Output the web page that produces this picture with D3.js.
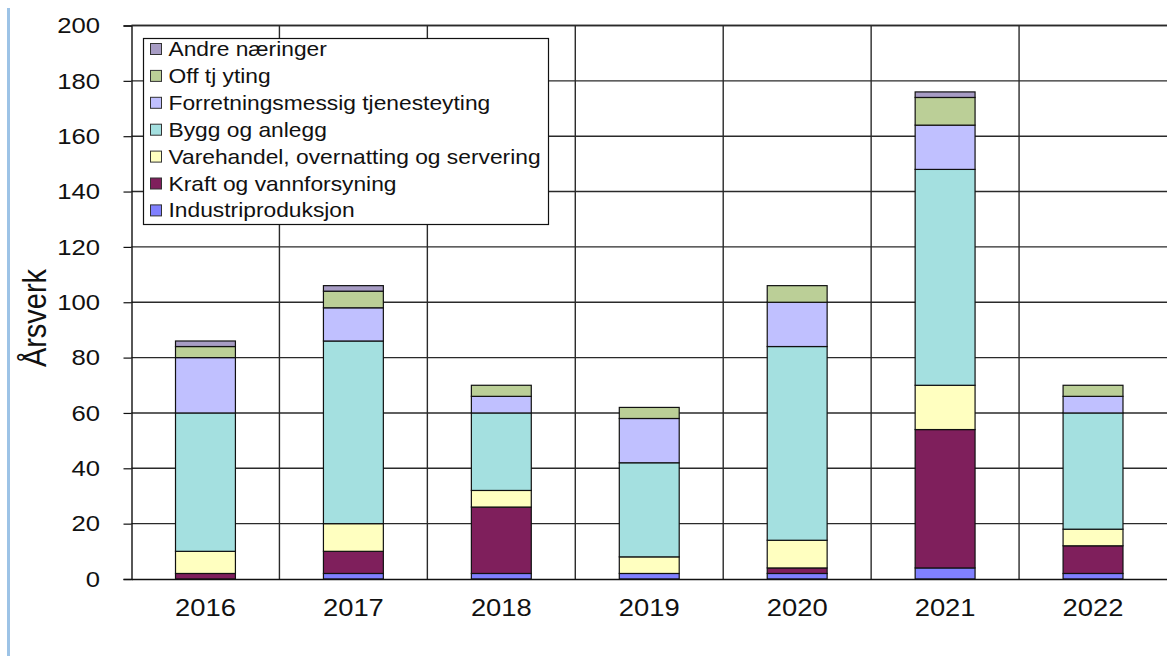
<!DOCTYPE html>
<html>
<head>
<meta charset="utf-8">
<script src="https://cdn.jsdelivr.net/npm/d3@7"></script>
<style>
  html, body { margin: 0; padding: 0; background: #fff; }
  svg { display: block; font-family: "Liberation Sans", Arial, sans-serif; }
</style>
</head>
<body>
<svg id="chart" width="1167" height="661"></svg>
<script>
// Years on the x axis
const years = ["2016", "2017", "2018", "2019", "2020", "2021", "2022"];

// Årsverk per industry, stacked bottom to top
const industriproduksjon = [0, 2, 2, 2, 2, 4, 2];
const kraftOgVannforsyning = [2, 8, 24, 0, 2, 50, 10];
const varehandel = [8, 10, 6, 6, 10, 16, 6];
const byggOgAnlegg = [50, 66, 28, 34, 70, 78, 42];
const forretningsmessig = [20, 12, 6, 16, 16, 16, 6];
const offTjYting = [4, 6, 4, 4, 6, 10, 4];
const andreNaeringer = [2, 2, 0, 0, 0, 2, 0];

const seriesNames = [
  "Industriproduksjon",
  "Kraft og vannforsyning",
  "Varehandel, overnatting og servering",
  "Bygg og anlegg",
  "Forretningsmessig tjenesteyting",
  "Off tj yting",
  "Andre næringer"
];
const seriesValues = [
  industriproduksjon, kraftOgVannforsyning, varehandel, byggOgAnlegg,
  forretningsmessig, offTjYting, andreNaeringer
];
const seriesColors = ["#8080FF", "#7F1F5C", "#FFFFC0", "#A4E0E0", "#C0C0FF", "#BBCF97", "#A79CC4"];

const yTicks = [0, 20, 40, 60, 80, 100, 120, 140, 160, 180, 200];

const rows = years.map((yr, i) => {
  const r = { year: yr };
  seriesNames.forEach((n, s) => { r[n] = seriesValues[s][i]; });
  return r;
});

// Text in this chart is set slightly wide
const stretch = 1.14;
const font = "'Liberation Sans', Arial, sans-serif";

const svg = d3.select("#chart");
const plotLeft = 131.5, plotRight = 1167, plotTop = 25.5, plotBottom = 579;

const x = d3.scaleBand().domain(years).range([plotLeft, plotRight]).paddingInner(0).paddingOuter(0);
const y = d3.scaleLinear().domain([0, 200]).range([plotBottom, plotTop]);

// Light blue rule on the far left
svg.append("line")
  .attr("x1", 8.5).attr("x2", 8.5).attr("y1", 8).attr("y2", 656)
  .attr("stroke", "#9DC3E6").attr("stroke-width", 3);

// Horizontal gridlines
svg.append("g")
  .selectAll("line")
  .data(yTicks.filter(t => t > 0))
  .join("line")
  .attr("x1", plotLeft).attr("x2", plotRight)
  .attr("y1", d => y(d)).attr("y2", d => y(d))
  .attr("stroke", "#2a2a2a").attr("stroke-width", 1.4);

// Vertical gridlines between years
svg.append("g")
  .selectAll("line")
  .data(years.slice(1))
  .join("line")
  .attr("x1", d => x(d)).attr("x2", d => x(d))
  .attr("y1", plotTop).attr("y2", plotBottom)
  .attr("stroke", "#2a2a2a").attr("stroke-width", 1.4);

// Stacked bars
const stack = d3.stack().keys(seriesNames);
const stacked = stack(rows);
const barW = x.bandwidth() * 0.405;

svg.append("g")
  .selectAll("g")
  .data(stacked)
  .join("g")
  .attr("fill", (d, i) => seriesColors[i])
  .selectAll("rect")
  .data(d => d.filter(p => p[1] - p[0] > 0))
  .join("rect")
  .attr("x", d => x(d.data.year) + (x.bandwidth() - barW) / 2)
  .attr("width", barW)
  .attr("y", d => y(d[1]))
  .attr("height", d => y(d[0]) - y(d[1]))
  .attr("stroke", "#111")
  .attr("stroke-width", 1.2);

// Y axis
const yAxis = svg.append("g")
  .attr("transform", `translate(${plotLeft},0)`)
  .call(d3.axisLeft(y).tickValues(yTicks).tickSize(8).tickPadding(23.5));
yAxis.select(".domain").attr("stroke", "#111").attr("stroke-width", 1.4);
yAxis.selectAll(".tick line").attr("stroke", "#111").attr("stroke-width", 1.2);
yAxis.selectAll("text")
  .attr("font-size", 22.5).attr("fill", "#111").attr("font-family", font)
  .attr("x", -31.5 / stretch)
  .attr("transform", `scale(${stretch},1)`);

// X axis
const xAxis = svg.append("g")
  .attr("transform", `translate(0,${plotBottom})`)
  .call(d3.axisBottom(x).tickSize(0).tickPadding(20));
xAxis.select(".domain").attr("stroke", "#111").attr("stroke-width", 1.4);
xAxis.selectAll("text")
  .attr("font-size", 24).attr("fill", "#111").attr("font-family", font)
  .attr("transform", `scale(${stretch},1)`);

// Top border line of plot
svg.append("line")
  .attr("x1", plotLeft).attr("x2", plotRight).attr("y1", plotTop).attr("y2", plotTop)
  .attr("stroke", "#2a2a2a").attr("stroke-width", 1.6);

// Y axis title
svg.append("text")
  .attr("transform", `translate(46,318) scale(${stretch},1) rotate(-90)`)
  .attr("text-anchor", "middle")
  .attr("font-size", 29)
  .attr("fill", "#111")
  .text("Årsverk");

// Legend (top entry is the top of the stack)
const legend = svg.append("g").attr("transform", "translate(143.5,38.5)");
legend.append("rect")
  .attr("width", 405).attr("height", 186)
  .attr("fill", "#fff").attr("stroke", "#111").attr("stroke-width", 1.2);

const legendItems = seriesNames.map((n, i) => ({ name: n, color: seriesColors[i] })).reverse();
const li = legend.selectAll("g.item")
  .data(legendItems)
  .join("g")
  .attr("class", "item")
  .attr("transform", (d, i) => `translate(0,${10.5 + i * 26.9})`);
li.append("rect")
  .attr("x", 7).attr("y", -5.5).attr("width", 11).attr("height", 11)
  .attr("fill", d => d.color).attr("stroke", "#333").attr("stroke-width", 1);
li.append("text")
  .attr("x", 25 / stretch).attr("y", 7)
  .attr("font-size", 20)
  .attr("fill", "#111")
  .attr("transform", `scale(${stretch},1)`)
  .text(d => d.name);
</script>
</body>
</html>
